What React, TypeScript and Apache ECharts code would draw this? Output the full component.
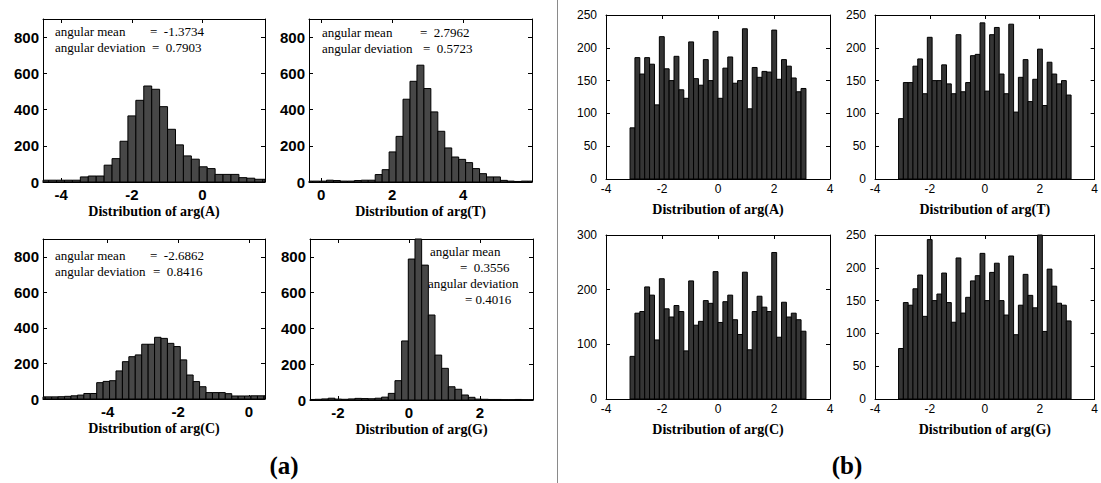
import React, { useEffect, useRef } from "react";
import * as echarts from "echarts";

const PI = Math.PI;

// ---------------- Panel (a): angular statistics ----------------
const bases = ["A", "T", "C", "G"];
const angularMean = [-1.3734, 2.7962, -2.6862, 0.3556];
const angularDeviation = [0.7903, 0.5723, 0.8416, 0.4016];

// Panel (a) histograms: first bin edge, bin width, counts
const aBinStart = [-4.58, -0.44, -5.946, -2.836];
const aBinWidth = [0.2244, 0.196, 0.182, 0.188];
const aCountsA = [10, 10, 10, 10, 10, 28, 33, 33, 93, 129, 225, 365, 451, 530, 512, 416, 291, 205, 144, 126, 84, 74, 42, 42, 42, 24, 21, 15, 15];
const aCountsT = [5, 5, 5, 10, 8, 5, 5, 8, 10, 10, 41, 68, 166, 252, 457, 556, 645, 516, 387, 280, 188, 138, 125, 107, 74, 46, 28, 28, 9, 5, 3, 5, 5];
const aCountsC = [12, 12, 12, 13, 15, 18, 22, 31, 31, 92, 99, 103, 158, 210, 238, 248, 308, 308, 347, 341, 313, 295, 220, 135, 98, 69, 36, 36, 36, 30, 17, 17, 17, 18, 18, 18];
const aCountsG = [3, 4, 6, 10, 5, 4, 6, 9, 8, 7, 10, 16, 37, 108, 330, 788, 950, 754, 475, 251, 177, 74, 60, 28, 15, 5, 4, 3, 3, 2, 2, 3, 2, 2];
const aCounts = [aCountsA, aCountsT, aCountsC, aCountsG];

const aXTicks = [[-4, -2, 0], [0, 2, 4], [-4, -2, 0], [-2, 0, 2]];
const aYTicks = [0, 200, 400, 600, 800];
const aYMax = 900;

// ---------------- Panel (b): 36 bins over [-pi, pi] ----------------
const bBinCount = 36;
const bCountsA = [78, 185, 160, 185, 175, 113, 217, 168, 150, 187, 136, 123, 209, 153, 143, 182, 150, 225, 123, 169, 186, 146, 150, 229, 107, 170, 155, 164, 163, 227, 152, 182, 172, 154, 133, 138];
const bCountsT = [92, 147, 147, 172, 183, 130, 216, 150, 150, 174, 145, 130, 220, 133, 147, 188, 190, 238, 134, 220, 231, 160, 130, 236, 102, 155, 182, 118, 152, 198, 112, 178, 160, 145, 150, 128];
const bCountsC = [78, 157, 160, 205, 190, 108, 220, 165, 150, 171, 160, 88, 216, 135, 142, 180, 175, 233, 140, 178, 190, 145, 118, 232, 90, 160, 188, 168, 160, 268, 113, 177, 150, 157, 145, 124];
const bCountsG = [77, 147, 143, 168, 189, 126, 243, 150, 160, 192, 147, 117, 215, 131, 155, 180, 188, 222, 150, 193, 207, 150, 128, 218, 98, 143, 190, 158, 139, 250, 103, 198, 172, 146, 143, 119];
const bCounts = [bCountsA, bCountsT, bCountsC, bCountsG];

const bXRange = [-4, 4];
const bXTicks = [-4, -2, 0, 2, 4];
const bYTicks = [[0, 50, 100, 150, 200, 250], [0, 50, 100, 150, 200, 250], [0, 100, 200, 300], [0, 50, 100, 150, 200, 250]];
const bYMax = [250, 250, 300, 250];

// ---------------- Layout (pixels) ----------------
const aGrids = [
  { left: 43, top: 19, width: 222, height: 163 },
  { left: 309, top: 19, width: 223, height: 163 },
  { left: 43, top: 239, width: 222, height: 160 },
  { left: 310, top: 239, width: 223, height: 161 },
];
const bGrids = [
  { left: 606, top: 15, width: 224, height: 164 },
  { left: 875, top: 15, width: 221, height: 164 },
  { left: 606, top: 235, width: 224, height: 164 },
  { left: 875, top: 235, width: 221, height: 164 },
];

const SERIF = '"Liberation Serif", "Times New Roman", serif';
const SANS = '"Liberation Sans", Arial, sans-serif';

function makeBins(start: number, width: number, counts: number[]) {
  return counts.map((c, i) => [start + i * width, start + (i + 1) * width, c]);
}

function histSeries(idx: number, data: number[][], fill: string) {
  return {
    type: "custom",
    xAxisIndex: idx * 2,
    yAxisIndex: idx * 2,
    silent: true,
    data,
    encode: { x: [0, 1], y: 2 },
    renderItem: (params: any, api: any) => {
      const x0 = api.value(0);
      const x1 = api.value(1);
      const c = api.value(2);
      const pA = api.coord([x0, 0]);
      const pB = api.coord([x1, c]);
      const cs = params.coordSys;
      const left = Math.max(pA[0], cs.x);
      const right = Math.min(pB[0], cs.x + cs.width);
      const top = Math.max(pB[1], cs.y);
      const bottom = pA[1];
      if (right <= left || bottom <= top) return { type: "group", children: [] };
      return {
        type: "rect",
        shape: { x: left, y: top, width: right - left, height: bottom - top },
        style: { fill, stroke: "#000", lineWidth: 1 },
      };
    },
  };
}

type AxStyle = {
  labelSize: number;
  labelWeight: string;
  labelFamily: string;
  xMargin: number;
  yMargin: number;
  nameSize: number;
  nameGap: number;
};

const aStyle: AxStyle = { labelSize: 15, labelWeight: "bold", labelFamily: SANS, xMargin: 5, yMargin: 4, nameSize: 14, nameGap: 22 };
const bStyle: AxStyle = { labelSize: 12, labelWeight: "normal", labelFamily: SANS, xMargin: 4, yMargin: 9, nameSize: 14, nameGap: 23 };

function axesFor(gi: number, xMin: number, xMax: number, xTicks: number[], yMax: number, yTicks: number[], name: string, st: AxStyle) {
  const line = { show: true, onZero: false, lineStyle: { color: "#000", width: 1 } };
  const label = (margin: number, ticks: number[]) => ({
    show: true,
    customValues: ticks,
    margin,
    color: "#000",
    fontFamily: st.labelFamily,
    fontSize: st.labelSize,
    fontWeight: st.labelWeight,
  });
  const tick = (ticks: number[]) => ({ show: true, inside: true, length: 4, customValues: ticks, lineStyle: { color: "#000", width: 1 } });
  const x = [
    {
      type: "value", gridIndex: gi, position: "bottom", min: xMin, max: xMax,
      name, nameLocation: "middle", nameGap: st.nameGap,
      nameTextStyle: { color: "#000", fontFamily: SERIF, fontSize: st.nameSize, fontWeight: "bold" },
      axisLine: line, axisTick: tick(xTicks), axisLabel: label(st.xMargin, xTicks), splitLine: { show: false },
    },
    {
      type: "value", gridIndex: gi, position: "top", min: xMin, max: xMax,
      axisLine: line, axisTick: tick(xTicks), axisLabel: { show: false }, splitLine: { show: false },
    },
  ];
  const y = [
    {
      type: "value", gridIndex: gi, position: "left", min: 0, max: yMax,
      axisLine: line, axisTick: tick(yTicks), axisLabel: label(st.yMargin, yTicks), splitLine: { show: false },
    },
    {
      type: "value", gridIndex: gi, position: "right", min: 0, max: yMax,
      axisLine: line, axisTick: tick(yTicks), axisLabel: { show: false }, splitLine: { show: false },
    },
  ];
  return { x, y };
}

function txt(text: string, x: number, y: number, size: number, weight = "normal", align = "left") {
  return {
    type: "text",
    x,
    y,
    silent: true,
    style: {
      text,
      fill: "#000",
      fontFamily: SERIF,
      fontSize: size,
      fontWeight: weight,
      align,
      verticalAlign: "middle",
      textAlign: align,
      textVerticalAlign: "middle",
    },
  };
}

function buildOption() {
  const grids: any[] = [];
  const xAxis: any[] = [];
  const yAxis: any[] = [];
  const series: any[] = [];

  // panel (a)
  for (let i = 0; i < 4; i++) {
    grids.push({ ...aGrids[i], containLabel: false });
    const m = angularMean[i];
    const ax = axesFor(i, m - PI, m + PI, aXTicks[i], aYMax, aYTicks, `Distribution of arg(${bases[i]})`, aStyle);
    xAxis.push(...ax.x);
    yAxis.push(...ax.y);
    series.push(histSeries(i, makeBins(aBinStart[i], aBinWidth[i], aCounts[i]), "#474747"));
  }
  // panel (b)
  const bw = (2 * PI) / bBinCount;
  for (let i = 0; i < 4; i++) {
    const gi = i + 4;
    grids.push({ ...bGrids[i], containLabel: false });
    const ax = axesFor(gi, bXRange[0], bXRange[1], bXTicks, bYMax[i], bYTicks[i], `Distribution of arg(${bases[i]})`, bStyle);
    xAxis.push(...ax.x);
    yAxis.push(...ax.y);
    series.push(histSeries(gi, makeBins(-PI, bw, bCounts[i]), "#353535"));
  }

  const f = (v: number) => v.toFixed(4);
  const annSize = 13;
  const graphic: any[] = [
    { type: "line", silent: true, shape: { x1: 557.5, y1: 0, x2: 557.5, y2: 483 }, style: { stroke: "#8a8a8a", lineWidth: 1 } },
    txt("(a)", 284, 465, 25, "bold", "center"),
    txt("(b)", 847, 465, 25, "bold", "center"),
    // A
    txt("angular mean", 55, 31, annSize),
    txt(`=  ${f(angularMean[0])}`, 150, 31, annSize),
    txt("angular deviation", 55, 47, annSize),
    txt(`=  ${f(angularDeviation[0])}`, 152, 47, annSize),
    // T
    txt("angular mean", 322, 32, annSize),
    txt(`=  ${f(angularMean[1])}`, 420, 32, annSize),
    txt("angular deviation", 322, 48, annSize),
    txt(`=  ${f(angularDeviation[1])}`, 423, 48, annSize),
    // C
    txt("angular mean", 55, 255, annSize),
    txt(`=  ${f(angularMean[2])}`, 150, 255, annSize),
    txt("angular deviation", 55, 271, annSize),
    txt(`=  ${f(angularDeviation[2])}`, 153, 271, annSize),
    // G
    txt("angular mean", 430, 251, annSize),
    txt(`=  ${f(angularMean[3])}`, 460, 267, annSize),
    txt("angular deviation", 428, 283, annSize),
    txt(`= ${f(angularDeviation[3])}`, 465, 299, annSize),
  ];

  return {
    animation: false,
    backgroundColor: "#fff",
    grid: grids,
    xAxis,
    yAxis,
    series,
    graphic,
  };
}

export default function App() {
  const ref = useRef<HTMLDivElement>(null);
  useEffect(() => {
    if (!ref.current) return;
    const chart = echarts.init(ref.current, null, { renderer: "svg" });
    chart.setOption(buildOption() as any);
    return () => chart.dispose();
  }, []);
  return (
    <div
      ref={ref}
      style={{ position: "fixed", left: 0, top: 0, width: 1101, height: 483, background: "#fff" }}
    />
  );
}
